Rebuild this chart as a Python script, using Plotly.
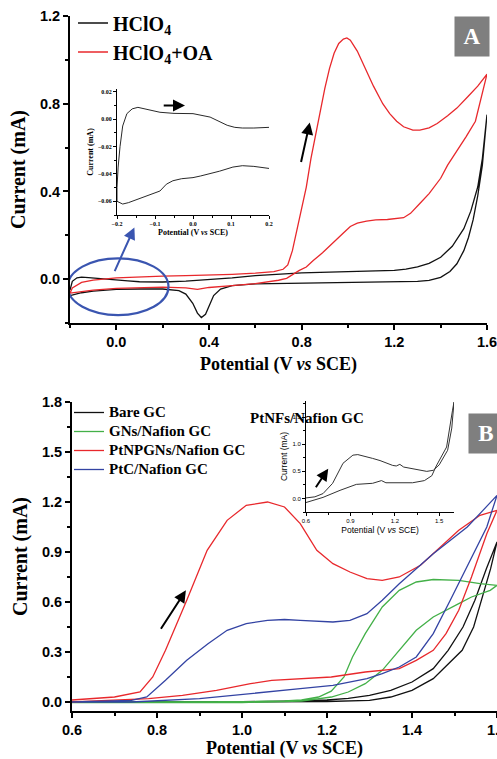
import plotly.graph_objects as go

# ---------------- Panel A : HClO4 vs HClO4 + OA ----------------
A_HCLO4_FWD_X = [-0.2, -0.19, -0.17, -0.15, -0.12, -0.08, -0.04, 0.0, 0.05, 0.1, 0.2, 0.3, 0.4, 0.5, 0.6,
                 0.7, 0.8, 1.0, 1.2, 1.25, 1.3, 1.35, 1.4, 1.45, 1.5, 1.53, 1.56, 1.58, 1.6]
A_HCLO4_FWD_Y = [-0.05, -0.01, 0.006, 0.009, 0.007, 0.004, 0.002, -0.002, -0.008, -0.012, -0.013, -0.009,
                 -0.003, 0.006, 0.016, 0.023, 0.029, 0.034, 0.04, 0.046, 0.056, 0.072, 0.1, 0.15, 0.23, 0.31,
                 0.42, 0.55, 0.75]
A_HCLO4_REV_X = [1.6, 1.59, 1.58, 1.56, 1.54, 1.52, 1.5, 1.47, 1.44, 1.4, 1.35, 1.3, 1.2, 1.0, 0.8, 0.6,
                 0.5, 0.45, 0.42, 0.4, 0.385, 0.367, 0.35, 0.33, 0.3, 0.27, 0.2, 0.1, 0.0, -0.1, -0.15, -0.2]
A_HCLO4_REV_Y = [0.75, 0.63, 0.52, 0.38, 0.27, 0.19, 0.13, 0.07, 0.035, 0.008, -0.006, -0.01, -0.012,
                 -0.015, -0.018, -0.022, -0.03, -0.045, -0.075, -0.12, -0.16, -0.175, -0.155, -0.11,
                 -0.068, -0.052, -0.045, -0.045, -0.047, -0.055, -0.062, -0.075]

A_OA_FWD_X = [-0.2, -0.19, -0.15, -0.1, 0.0, 0.1, 0.2, 0.3, 0.4, 0.5, 0.6, 0.68, 0.72, 0.74, 0.76, 0.78,
              0.8, 0.82, 0.84, 0.86, 0.88, 0.9, 0.92, 0.94, 0.96, 0.98, 0.995, 1.01, 1.04, 1.07, 1.11,
              1.15, 1.18, 1.21, 1.24, 1.28, 1.31, 1.35, 1.385, 1.43, 1.47, 1.52, 1.56, 1.6]
A_OA_FWD_Y = [-0.064, -0.04, -0.015, -0.004, 0.006, 0.011, 0.014, 0.016, 0.018, 0.022, 0.027, 0.034,
              0.045, 0.065, 0.13, 0.23, 0.33, 0.42, 0.55, 0.66, 0.77, 0.87, 0.96, 1.03, 1.075, 1.095,
              1.1, 1.09, 1.04, 0.97, 0.88, 0.8, 0.755, 0.72, 0.695, 0.68, 0.68, 0.69, 0.71, 0.745, 0.78,
              0.835, 0.88, 0.935]
A_OA_REV_X = [1.6, 1.57, 1.55, 1.51, 1.47, 1.43, 1.4, 1.35, 1.31, 1.27, 1.24, 1.2, 1.17, 1.12, 1.08,
              1.04, 1.01, 0.98, 0.95, 0.92, 0.89, 0.85, 0.82, 0.79, 0.76, 0.735, 0.7, 0.6, 0.5, 0.4,
              0.35, 0.3, 0.2, 0.1, 0.0, -0.1, -0.15, -0.2]
A_OA_REV_Y = [0.935, 0.8, 0.72, 0.65, 0.585, 0.52, 0.46, 0.39, 0.345, 0.3, 0.28, 0.275, 0.272, 0.27,
              0.265, 0.255, 0.24, 0.21, 0.18, 0.15, 0.12, 0.085, 0.055, 0.04, 0.02, 0.004, -0.005,
              -0.02, -0.03, -0.038, -0.047, -0.04, -0.036, -0.038, -0.042, -0.05, -0.056, -0.064]

# inset A (HClO4, -0.2 .. 0.2 V): lower (cathodic) branch then upper (anodic) branch
INSET_A_REV_X = [0.2, 0.16, 0.13, 0.105, 0.07, 0.045, 0.02, 0.0, -0.03, -0.053, -0.07, -0.087, -0.11,
                 -0.13, -0.15, -0.17, -0.185, -0.2]
INSET_A_REV_Y = [-0.036, -0.0345, -0.034, -0.035, -0.038, -0.04, -0.0415, -0.0427, -0.0435, -0.045,
                 -0.0475, -0.0525, -0.055, -0.057, -0.059, -0.061, -0.062, -0.06]
INSET_A_FWD_X = [-0.2, -0.197, -0.192, -0.185, -0.174, -0.16, -0.145, -0.12, -0.087, -0.05, 0.0, 0.045,
                 0.07, 0.09, 0.11, 0.13, 0.16, 0.2]
INSET_A_FWD_Y = [-0.05, -0.035, -0.02, -0.005, 0.004, 0.0075, 0.0086, 0.007, 0.005, 0.0042, 0.004,
                 0.0015, -0.002, -0.0045, -0.006, -0.0065, -0.0065, -0.006]

# ---------------- Panel B : electrodes ----------------
B_BARE_FWD_X = [0.6, 0.8, 1.0, 1.1, 1.2, 1.25, 1.3, 1.35, 1.4, 1.45, 1.485, 1.52, 1.548, 1.575, 1.6]
B_BARE_FWD_Y = [0.0, 0.0, 0.002, 0.005, 0.012, 0.022, 0.04, 0.07, 0.12, 0.2, 0.31, 0.45, 0.61, 0.8, 0.96]
B_BARE_REV_X = [1.6, 1.585, 1.564, 1.545, 1.518, 1.45, 1.4, 1.35, 1.3, 1.2, 1.0, 0.8, 0.6]
B_BARE_REV_Y = [0.96, 0.8, 0.61, 0.45, 0.31, 0.14, 0.07, 0.03, 0.01, 0.003, 0.0, 0.0, 0.0]

B_GN_FWD_X = [0.6, 0.8, 1.0, 1.1, 1.14, 1.18, 1.21, 1.24, 1.26, 1.29, 1.33, 1.37, 1.41, 1.45, 1.51,
              1.56, 1.6]
B_GN_FWD_Y = [0.0, 0.0, 0.002, 0.006, 0.012, 0.03, 0.065, 0.15, 0.27, 0.41, 0.57, 0.67, 0.72, 0.735,
              0.73, 0.71, 0.70]
B_GN_REV_X = [1.6, 1.584, 1.54, 1.51, 1.45, 1.41, 1.37, 1.33, 1.29, 1.25, 1.21, 1.14, 1.0, 0.8, 0.6]
B_GN_REV_Y = [0.70, 0.67, 0.63, 0.59, 0.51, 0.43, 0.31, 0.19, 0.11, 0.06, 0.03, 0.005, -0.003,
              -0.004, -0.004]

B_PTNP_FWD_X = [0.6, 0.7, 0.76, 0.79, 0.82, 0.87, 0.918, 0.965, 1.01, 1.06, 1.1, 1.137, 1.176, 1.214,
                1.254, 1.294, 1.33, 1.37, 1.42, 1.466, 1.51, 1.56, 1.6]
B_PTNP_FWD_Y = [0.012, 0.03, 0.06, 0.15, 0.31, 0.61, 0.91, 1.09, 1.18, 1.2, 1.17, 1.07, 0.91, 0.83,
                0.78, 0.74, 0.73, 0.75, 0.82, 0.93, 1.03, 1.12, 1.15]
B_PTNP_REV_X = [1.6, 1.576, 1.54, 1.51, 1.48, 1.45, 1.41, 1.37, 1.29, 1.21, 1.137, 1.07, 1.02, 0.94,
                0.86, 0.78, 0.6]
B_PTNP_REV_Y = [1.15, 1.01, 0.75, 0.55, 0.41, 0.31, 0.25, 0.2, 0.18, 0.15, 0.14, 0.13, 0.11, 0.07,
                0.04, 0.02, 0.0]

B_PTC_FWD_X = [0.6, 0.74, 0.776, 0.82, 0.87, 0.92, 0.965, 1.01, 1.06, 1.1, 1.137, 1.214, 1.254, 1.294,
               1.33, 1.37, 1.45, 1.53, 1.567, 1.6]
B_PTC_FWD_Y = [0.0, 0.01, 0.03, 0.13, 0.25, 0.35, 0.43, 0.47, 0.49, 0.495, 0.49, 0.48, 0.49, 0.53,
               0.61, 0.71, 0.89, 1.05, 1.15, 1.24]
B_PTC_REV_X = [1.6, 1.576, 1.53, 1.49, 1.45, 1.41, 1.37, 1.33, 1.294, 1.214, 1.137, 1.06, 0.98, 0.9,
               0.74, 0.6]
B_PTC_REV_Y = [1.24, 1.05, 0.81, 0.61, 0.41, 0.27, 0.21, 0.17, 0.14, 0.1, 0.08, 0.06, 0.04, 0.02, 0.0,
               0.0]

# inset B (PtNFs/Nafion GC)
INSET_B_FWD_X = [0.6, 0.66, 0.715, 0.78, 0.85, 0.917, 0.95, 1.0, 1.05, 1.1, 1.146, 1.186, 1.21, 1.234,
                 1.26, 1.33, 1.416, 1.46, 1.5, 1.557, 1.585, 1.6]
INSET_B_FWD_Y = [0.01, 0.03, 0.09, 0.28, 0.65, 0.8, 0.81, 0.78, 0.74, 0.7, 0.65, 0.61, 0.6, 0.63, 0.58,
                 0.55, 0.5, 0.52, 0.62, 0.89, 1.3, 1.78]
INSET_B_REV_X = [1.6, 1.59, 1.55, 1.48, 1.45, 1.4, 1.32, 1.19, 1.14, 1.11, 1.08, 1.05, 0.94, 0.83,
                 0.715, 0.6]
INSET_B_REV_Y = [1.78, 1.63, 0.95, 0.6, 0.42, 0.33, 0.29, 0.28, 0.29, 0.33, 0.3, 0.28, 0.26, 0.15,
                 0.02, -0.075]

# tick labels
A_X_TICKS = [0.0, 0.4, 0.8, 1.2, 1.6]
A_Y_TICKS = [0.0, 0.4, 0.8, 1.2]
B_X_TICKS = [0.6, 0.8, 1.0, 1.2, 1.4, 1.6]
B_Y_TICKS = [0.0, 0.3, 0.6, 0.9, 1.2, 1.5, 1.8]
INSET_A_X_TICKS = [-0.2, -0.1, 0.0, 0.1, 0.2]
INSET_A_Y_TICKS = [-0.06, -0.04, -0.02, 0.0, 0.02]
INSET_B_X_TICKS = [0.6, 0.9, 1.2, 1.5]
INSET_B_Y_TICKS = [0.0, 0.5, 1.0, 1.5]

BLACK = "#111111"
RED = "#e8282c"
GREEN = "#43b048"
BLUE = "#3343a3"
SERIF = "Liberation Serif"
SANS = "Liberation Sans"

W, H = 497, 759


def px(x):
    return x / W


def py(y):
    return 1 - y / H


def big(t, size=15):
    return '<span style="font-size:%dpx">%s</span>' % (size, t)


fig = go.Figure()

# Panel A traces
fig.add_trace(go.Scatter(x=A_HCLO4_FWD_X + A_HCLO4_REV_X, y=A_HCLO4_FWD_Y + A_HCLO4_REV_Y,
                         mode="lines", line=dict(color=BLACK, width=1.3), name="HClO<sub>4</sub>",
                         xaxis="x", yaxis="y", legend="legend"))
fig.add_trace(go.Scatter(x=A_OA_FWD_X + A_OA_REV_X, y=A_OA_FWD_Y + A_OA_REV_Y,
                         mode="lines", line=dict(color=RED, width=1.3), name="HClO<sub>4</sub>+OA",
                         xaxis="x", yaxis="y", legend="legend"))
fig.add_trace(go.Scatter(x=INSET_A_REV_X + INSET_A_FWD_X, y=INSET_A_REV_Y + INSET_A_FWD_Y,
                         mode="lines", line=dict(color=BLACK, width=0.9), showlegend=False,
                         xaxis="x3", yaxis="y3"))

# Panel B traces
for fx, fy, rx, ry, col, nm in [
    (B_BARE_FWD_X, B_BARE_FWD_Y, B_BARE_REV_X, B_BARE_REV_Y, BLACK, "Bare GC"),
    (B_GN_FWD_X, B_GN_FWD_Y, B_GN_REV_X, B_GN_REV_Y, GREEN, "GNs/Nafion GC"),
    (B_PTNP_FWD_X, B_PTNP_FWD_Y, B_PTNP_REV_X, B_PTNP_REV_Y, RED, "PtNPGNs/Nafion GC"),
    (B_PTC_FWD_X, B_PTC_FWD_Y, B_PTC_REV_X, B_PTC_REV_Y, BLUE, "PtC/Nafion GC"),
]:
    fig.add_trace(go.Scatter(x=fx + rx, y=fy + ry, mode="lines", line=dict(color=col, width=1.3),
                             name=big(nm), xaxis="x2", yaxis="y2", legend="legend2"))
fig.add_trace(go.Scatter(x=INSET_B_FWD_X + INSET_B_REV_X, y=INSET_B_FWD_Y + INSET_B_REV_Y,
                         mode="lines", line=dict(color="#333333", width=1.0), showlegend=False,
                         xaxis="x4", yaxis="y4"))


def main_axis(dom, rng, ticks, minor_dtick, minor0, title, anchor, standoff, tsize):
    return dict(domain=dom, range=rng, tickmode="array", tickvals=ticks, tickformat=".1f",
                automargin=False, ticklabeloverflow="allow",
                showline=True, linecolor="black", linewidth=2, ticks="outside", ticklen=5,
                tickwidth=1.8, tickcolor="black",
                minor=dict(ticks="outside", ticklen=3, tickwidth=1.5, dtick=minor_dtick, tick0=minor0,
                           tickcolor="black"),
                showgrid=False, zeroline=False, anchor=anchor,
                tickfont=dict(family=SANS, size=14.5, color="black", weight="bold"),
                title=dict(text=title, standoff=standoff,
                           font=dict(family=SERIF, size=tsize, color="black", weight="bold")))


def inset_axis(dom, rng, ticks, minor_dtick, minor0, title, anchor, fmt, fam, tsize, ttsize, bold):
    w = "bold" if bold else "normal"
    return dict(domain=dom, range=rng, tickmode="array", tickvals=ticks, tickformat=fmt, automargin=False,
                ticklabeloverflow="allow",
                showline=True, linecolor="black", linewidth=1, ticks="outside", ticklen=3,
                tickwidth=1, tickcolor="black",
                minor=dict(ticks="outside", ticklen=2, tickwidth=0.8, dtick=minor_dtick, tick0=minor0,
                           tickcolor="black"),
                showgrid=False, zeroline=False, anchor=anchor,
                tickfont=dict(family=fam, size=tsize, color="black", weight=w),
                title=dict(text=title, standoff=3, font=dict(family=fam, size=ttsize, color="black", weight=w)))


POT = "Potential (V <i>vs</i> SCE)"
CUR = "Current (mA)"

fig.update_layout(
    template="none",
    width=W, height=H, margin=dict(l=0, r=0, t=0, b=0, autoexpand=False),
    paper_bgcolor="white", plot_bgcolor="rgba(0,0,0,0)",
    xaxis=main_axis([px(70), px(487)], [-0.2, 1.6], A_X_TICKS, 0.4, -0.2, POT, "y", 8, 18),
    yaxis=main_axis([py(323), py(16)], [-0.2, 1.2], A_Y_TICKS, 0.4, -0.2, CUR, "x", 9, 20),
    xaxis2=main_axis([px(72), 1.0], [0.6, 1.6], B_X_TICKS, 0.2, 0.7, POT, "y2", 5, 18),
    yaxis2=main_axis([py(711), py(402)], [-0.054, 1.8], B_Y_TICKS, 0.3, 0.15, CUR, "x2", 9, 20),
    xaxis3=inset_axis([px(117), px(269)], [-0.2, 0.2], INSET_A_X_TICKS, 0.1, -0.15, POT, "y3", ".1f",
                      SERIF, 6, 8, True),
    yaxis3=inset_axis([py(215), py(89)], [-0.07, 0.022], INSET_A_Y_TICKS, 0.02, -0.07, CUR, "x3", ".2f",
                      SERIF, 6, 8, True),
    xaxis4=inset_axis([px(306), px(454)], [0.6, 1.6], INSET_B_X_TICKS, 0.3, 0.75, POT, "y4", ".1f",
                      SANS, 6, 8.5, False),
    yaxis4=inset_axis([py(512), py(401)], [-0.25, 1.8], INSET_B_Y_TICKS, 0.5, 0.25, CUR, "x4", ".1f",
                      SANS, 6, 8.5, False),
    legend=dict(x=px(73), y=py(3.5), xanchor="left", yanchor="top", bgcolor="rgba(0,0,0,0)",
                font=dict(family=SERIF, size=20, color="black", weight="bold")),
    legend2=dict(x=px(69), y=py(398), xanchor="left", yanchor="top", bgcolor="rgba(0,0,0,0)",
                 font=dict(family=SERIF, size=12.3, color="black", weight="bold")),
    showlegend=True,
)

# blue ellipse marking the zoomed region in panel A
fig.add_shape(type="circle", xref="x", yref="y", x0=-0.21, x1=0.225, y0=-0.164, y1=0.095,
              line=dict(color="#3a55b0", width=2.2))

arrows = [
    # (xref, yref, tail x, tail y, head x, head y, color)
    ("x", "y", -0.01, 0.03, 0.078, 0.236, "#3a55b0"),
    ("x", "y", 0.796, 0.527, 0.835, 0.714, "black"),
    ("x3", "y3", -0.081, 0.010, -0.021, 0.010, "black"),
    ("x2", "y2", 0.807, 0.43, 0.868, 0.67, "black"),
    ("x4", "y4", 0.66, 0.18, 0.75, 0.55, "black"),
]
for xr, yr, tx, ty, hx, hy, col in arrows:
    fig.add_annotation(xref=xr, yref=yr, axref=xr, ayref=yr, x=hx, y=hy, ax=tx, ay=ty, text="",
                       showarrow=True, arrowhead=2, arrowsize=1.2, arrowwidth=2, arrowcolor=col)

# panel labels
for lab, x0, y0 in [("A", 454, 16), ("B", 468, 413)]:
    fig.add_annotation(xref="paper", yref="paper", x=px(x0), y=py(y0), xanchor="left", yanchor="top",
                       text=lab, showarrow=False, bgcolor="#7f7f7f", width=34, height=39, borderpad=0,
                       font=dict(family=SERIF, size=23, color="white", weight="bold"))

# inset B title
fig.add_annotation(xref="paper", yref="paper", x=px(366), y=py(418), text="PtNFs/Nafion GC",
                   showarrow=False, font=dict(family=SERIF, size=15, color="black", weight="bold"))

fig.write_html("out.html", config={"displayModeBar": False},
               post_script="document.body.style.margin='0px';")
